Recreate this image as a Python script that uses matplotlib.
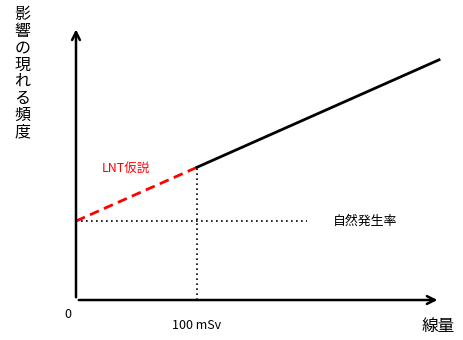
import matplotlib
matplotlib.use("Agg")
import matplotlib.pyplot as plt

plt.rcParams['font.family'] = ['Noto Sans CJK JP', 'DejaVu Sans']

# dose (mSv) vs frequency of effects (arbitrary units)
dose_lnt = [0, 100]
effect_lnt = [1.0, 1.68]
dose_obs = [100, 300]
effect_obs = [1.68, 3.04]
natural_rate = 1.0
natural_end = 191
ref_dose = 100
x_axis_end = 301
y_axis_end = 3.46

fig = plt.figure(figsize=(4.63, 3.40), dpi=100)
ax = fig.add_axes([0, 0, 1, 1])
ax.set_xlim(-62.8, 319.8)
ax.set_ylim(-0.506, 3.797)
ax.axis('off')

# axes with arrows
ax.annotate('', xy=(x_axis_end, 0), xytext=(0, 0),
            arrowprops=dict(arrowstyle='->', lw=1.8, color='black', mutation_scale=14))
ax.annotate('', xy=(0, y_axis_end), xytext=(0, 0),
            arrowprops=dict(arrowstyle='->', lw=1.8, color='black', mutation_scale=14))

# natural rate and reference dose guides
ax.plot([0, natural_end], [natural_rate, natural_rate], color='black', lw=1.2, ls=(0, (1, 2)))
ax.plot([ref_dose, ref_dose], [0, effect_lnt[1]], color='black', lw=1.2, ls=(0, (1, 2)))

# LNT hypothesis + observed
ax.plot(dose_lnt, effect_lnt, color='#ff0000', lw=2, ls=(0, (3.5, 2)))
ax.plot(dose_obs, effect_obs, color='black', lw=2)

ax.text(21.5, 1.66, 'LNT仮説', color='#ff0000', fontsize=9, ha='left', va='center')
ax.text(212.4, 0.99, '自然発生率', fontsize=9.3, ha='left', va='center')
ax.text(-7, -0.18, '0', fontsize=9, ha='center', va='center')
ax.text(ref_dose, -0.32, '100 mSv', fontsize=9, ha='center', va='center')
ax.text(299.6, -0.33, '線量', fontsize=12, ha='center', va='center')
ax.text(-44.5, 2.87, '\n'.join('影響の現れる頻度'), fontsize=11.5, ha='center', va='center',
        linespacing=0.99)

fig.savefig('out.png', dpi=100)
